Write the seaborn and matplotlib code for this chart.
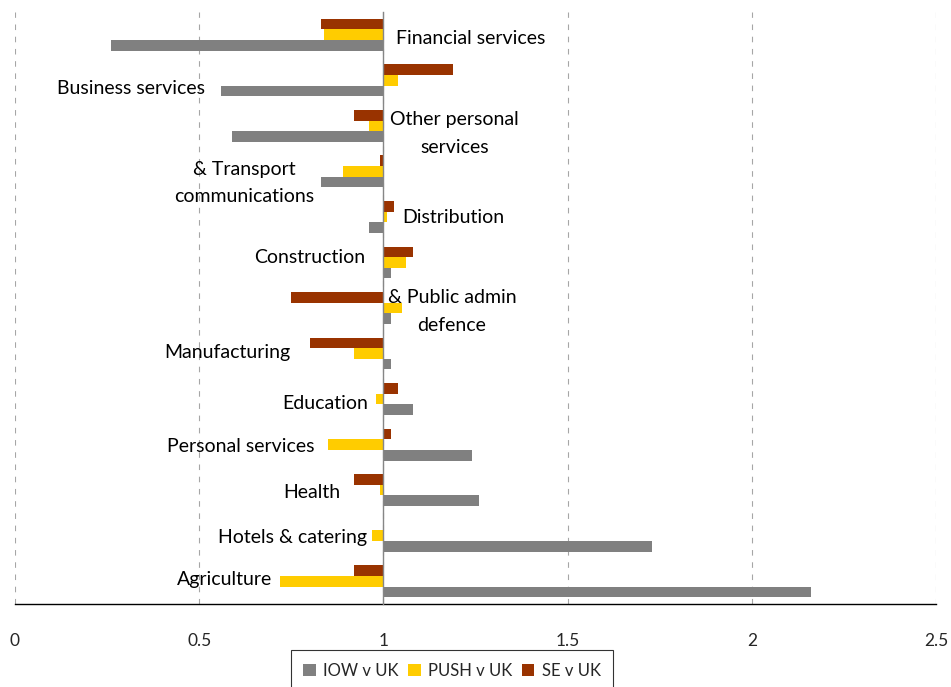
import numpy as np
import pandas as pd
import matplotlib
matplotlib.use("Agg")
import matplotlib.pyplot as plt
from matplotlib.patches import Patch
import seaborn as sns

# ---------------- data ----------------
sectors = ["Financial services", "Business services", "Other personal services",
           "Transport & communications", "Distribution", "Construction",
           "Public admin & defence", "Manufacturing", "Education",
           "Personal services", "Health", "Hotels & catering", "Agriculture"]
label_text = ["Financial services", "Business services", "Other personal\nservices",
              "& Transport\ncommunications", "Distribution", "Construction",
              "& Public admin\ndefence", "Manufacturing", "Education",
              "Personal services", "Health", "Hotels & catering", "Agriculture"]
iow_v_uk = [0.26, 0.56, 0.59, 0.83, 0.96, 1.02, 1.02, 1.02, 1.08, 1.24, 1.26, 1.73, 2.16]
push_v_uk = [0.84, 1.04, 0.96, 0.89, 1.01, 1.06, 1.05, 0.92, 0.98, 0.85, 0.99, 0.97, 0.72]
se_v_uk = [0.83, 1.19, 0.92, 0.99, 1.03, 1.08, 0.75, 0.80, 1.04, 1.02, 0.92, 1.00, 0.92]
series_names = ["IOW v UK", "PUSH v UK", "SE v UK"]
x_ticks = [0, 0.5, 1, 1.5, 2, 2.5]
x_ticklabels = ["0", "0.5", "1", "1.5", "2", "2.5"]
baseline = 1.0

# ---------------- layout / style ----------------
colors = {"IOW v UK": "#808080", "PUSH v UK": "#FFCC00", "SE v UK": "#993300"}
# label positions (data x, category index y)
label_pos = [(1.238, 0.09), (0.315, 1.17), (1.194, 2.17), (0.622, 3.25),
             (1.189, 4.02), (0.801, 4.90), (1.186, 6.08), (0.575, 6.97),
             (0.841, 8.09), (0.613, 9.05), (0.806, 10.06), (0.752, 11.03),
             (0.570, 11.97)]

rows = []
for name, vals in zip(series_names, [iow_v_uk, push_v_uk, se_v_uk]):
    for s, v in zip(sectors, vals):
        rows.append({"sector": s, "series": name, "delta": v - baseline})
df = pd.DataFrame(rows)

sns.set_style("white")
plt.rcParams["font.family"] = ["Lato", "DejaVu Sans"]

fig = plt.figure(figsize=(9.51, 6.87), dpi=100)
ax = fig.add_axes([15 / 951, 1 - 604 / 687, 921 / 951, 592 / 687])

sns.barplot(data=df, y="sector", x="delta", hue="series", order=sectors,
            hue_order=["SE v UK", "PUSH v UK", "IOW v UK"], palette=colors,
            orient="h", width=0.7, saturation=1, errorbar=None, legend=False,
            left=baseline, linewidth=0, ax=ax)

ax.set_xlim(0, 2.5)
ax.set_ylim(12.5, -0.5)
ax.set_xlabel("")
ax.set_ylabel("")
ax.set_xticks(x_ticks)
ax.set_xticklabels(x_ticklabels, fontsize=12.5)
ax.tick_params(axis="x", which="major", length=5, direction="out",
               color="black", pad=16)

ax.set_yticks(range(len(sectors)))
ax.set_yticklabels([])
ax.tick_params(axis="y", which="major", length=0)
ax.set_yticks(np.arange(-0.5, len(sectors), 1), minor=True)
ax.tick_params(axis="y", which="minor", length=5, direction="out",
               color="#868686", width=1)

ax.xaxis.grid(True, linestyle=(0, (5, 6)), color="#A6A6A6", linewidth=0.8)
ax.yaxis.grid(False)
ax.set_axisbelow(True)

for sp in ["top", "right"]:
    ax.spines[sp].set_visible(False)
ax.spines["left"].set_position(("data", baseline))
ax.spines["left"].set_color("#868686")
ax.spines["left"].set_linewidth(1)
ax.spines["left"].set_zorder(5)
ax.spines["bottom"].set_color("black")
ax.spines["bottom"].set_linewidth(1)

for txt, (lx, ly) in zip(label_text, label_pos):
    ax.text(lx, ly, txt, ha="center", va="center", fontsize=14,
            linespacing=1.75, color="black", zorder=6)

handles = [Patch(facecolor=colors[n], edgecolor="none", label=n) for n in series_names]
leg = fig.legend(handles=handles, loc="upper center",
                 bbox_to_anchor=(452 / 951, 1 - 650 / 687), ncol=3,
                 frameon=True, fontsize=12, handlelength=0.75, handleheight=0.75,
                 handletextpad=0.45, columnspacing=0.55, borderpad=0.75,
                 borderaxespad=0, fancybox=False)
leg.get_frame().set_edgecolor("black")
leg.get_frame().set_linewidth(0.8)

fig.savefig("out.png", dpi=100)
